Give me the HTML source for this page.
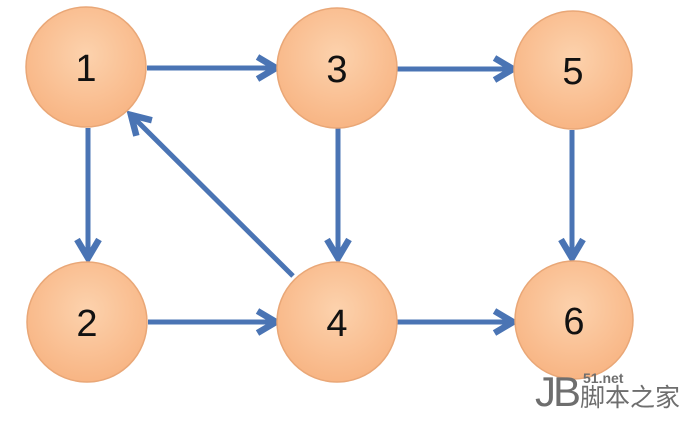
<!DOCTYPE html>
<html><head><meta charset="utf-8"><style>
body{margin:0;width:700px;height:422px;background:#fff;overflow:hidden;position:relative;font-family:"Liberation Sans",sans-serif}
svg{position:absolute;left:0;top:0}
.wm{position:absolute;color:#6e6e6e;font-family:"Liberation Sans","Noto Sans CJK SC",sans-serif}
</style></head><body>
<svg width="700" height="422" viewBox="0 0 700 422">
<defs>
<radialGradient id="g" cx="50%" cy="40%" r="60%">
<stop offset="0" stop-color="#fcd2ad"/><stop offset="1" stop-color="#f8b584"/>
</radialGradient>
<marker id="a" markerWidth="6" markerHeight="6" refX="4.5" refY="3" orient="auto" markerUnits="strokeWidth">
<path d="M0.8,0.8 L4.5,3 L0.8,5.2" fill="none" stroke="#4a74b4" stroke-width="1.3"/>
</marker>
</defs>
<g stroke="#4a74b4" stroke-width="5" marker-end="url(#a)" fill="none">
<line x1="147" y1="68" x2="276" y2="68"/>
<line x1="397" y1="69" x2="513" y2="69"/>
<line x1="88" y1="128" x2="88" y2="258"/>
<line x1="338" y1="128" x2="338" y2="258"/>
<line x1="572" y1="130" x2="572" y2="258"/>
<line x1="148" y1="322" x2="276" y2="322"/>
<line x1="397" y1="322" x2="513" y2="322"/>
<line x1="293" y1="276" x2="131" y2="115"/>
</g>
<g fill="url(#g)" stroke="#e9a777" stroke-width="1.5">
<circle cx="86" cy="67" r="60"/>
<circle cx="337" cy="68" r="60"/>
<circle cx="573" cy="70" r="59"/>
<circle cx="87" cy="322" r="60"/>
<circle cx="337" cy="322" r="60"/>
<circle cx="574" cy="320" r="59"/>
</g>
<g font-family="Liberation Sans" font-size="38" text-anchor="middle" fill="#111">
<text x="86" y="81">1</text>
<text x="337" y="82">3</text>
<text x="573" y="84">5</text>
<text x="87" y="336">2</text>
<text x="337" y="336">4</text>
<text x="574" y="334">6</text>
</g>
</svg>
<div class="wm" style="left:535px;top:371px;font-size:42px;line-height:42px;letter-spacing:-3px">JB</div>
<div class="wm" style="left:583px;top:371px;font-size:14px;line-height:14px;font-weight:bold">51.net</div>
<div class="wm" style="left:580px;top:385px;font-size:25px;line-height:27px">脚本之家</div>
</body></html>
